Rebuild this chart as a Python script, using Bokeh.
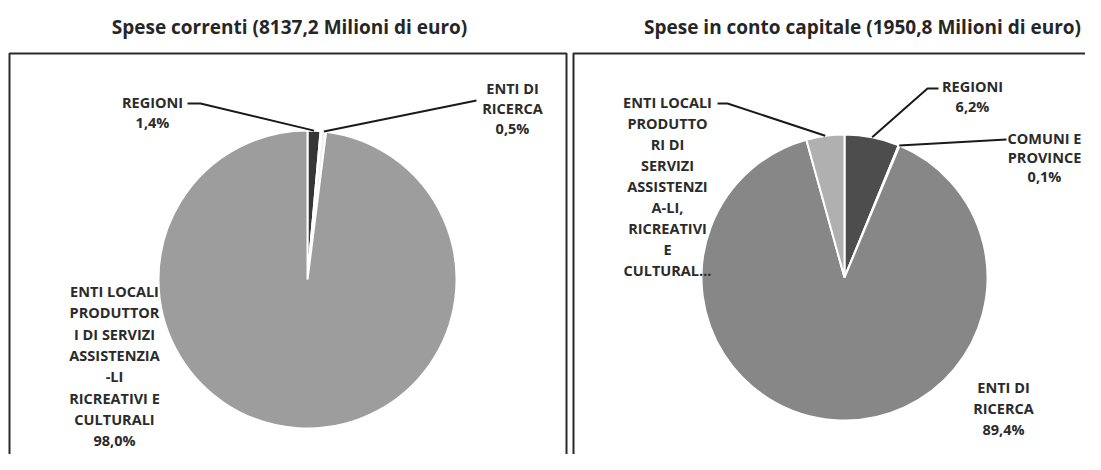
import math
from bokeh.plotting import figure
from bokeh.models import Range1d
from bokeh.core.properties import value
from bokeh.embed import file_html
from bokeh.resources import INLINE

# ---------------- data ----------------
titles = ["Spese correnti (8137,2 Milioni di euro)",
          "Spese in conto capitale (1950,8 Milioni di euro)"]
categories = ["REGIONI", "COMUNI E PROVINCE", "ENTI DI RICERCA",
              "ENTI LOCALI PRODUTTORI DI SERVIZI ASSISTENZIALI, RICREATIVI E CULTURALI"]
left_values = [1.4, 0.1, 0.5, 98.0]
right_values = [6.2, 0.1, 89.4, 4.3]
left_label_names = ["REGIONI", None, "ENTI DI\nRICERCA",
                    "ENTI LOCALI\nPRODUTTOR\nI DI SERVIZI\nASSISTENZIA\n-LI\nRICREATIVI E\nCULTURALI"]
right_label_names = ["REGIONI", "COMUNI E\nPROVINCE", "ENTI DI\nRICERCA",
                     "ENTI LOCALI\nPRODUTTO\nRI DI\nSERVIZI\nASSISTENZI\nA-LI,\nRICREATIVI\nE\nCULTURAL\u2026"]
left_show_pct = [True, False, True, True]
right_show_pct = [True, True, True, False]

# ---------------- layout / style ----------------
W, H = 1085, 454
def Y(sy):  # screen y -> data y
    return H - sy

FONT = value("Open Sans")
TXT = "#2b2b2b"
LABEL_SIZE = "14.5px"

left_colors = ["#363636", "#dcdcdc", "#f2f2f2", "#9d9d9d"]
right_colors = ["#4d4d4d", "#6c6c6c", "#878787", "#b0b0b0"]

panels = [
    dict(values=left_values, names=left_label_names, pct=left_show_pct, colors=left_colors,
         cx=307, cy=279, r=149, title_x=289,
         box=(9, 566),
         labels=[(152, 102, 20, [(200, 103), (187, 103)]),
                 None,
                 (512, 88, 20, [(476, 100)]),
                 (114, 291, 21.3, None)]),
    dict(values=right_values, names=right_label_names, pct=right_show_pct, colors=right_colors,
         cx=844, cy=277, r=143, title_x=862,
         box=(573, 1120),
         labels=[(972, 86, 20, [(927, 88), (938, 88)]),
                 (1044, 138, 19, [(1006, 139)]),
                 (1003, 387, 21, None),
                 (667, 102, 21, [(727, 103), (717, 103)])]),
]

p = figure(width=W, height=H, x_range=Range1d(0, W), y_range=Range1d(0, H),
           output_backend="svg", toolbar_location=None, min_border=0)
p.axis.visible = False
p.grid.visible = False
p.outline_line_color = None
p.background_fill_color = "white"
p.border_fill_color = "white"

for k_pan, pan in enumerate(panels):
    vals = pan["values"]
    tot = sum(vals)
    cx, cy, r = pan["cx"], Y(pan["cy"]), pan["r"]
    cum = 0.0
    starts, ends, mids = [], [], []
    for v in vals:
        a0 = math.pi / 2 - 2 * math.pi * cum / tot
        cum += v
        a1 = math.pi / 2 - 2 * math.pi * cum / tot
        starts.append(a0); ends.append(a1); mids.append((a0 + a1) / 2)
    # panel box
    bx0, bx1 = pan["box"]
    p.line([bx0, bx0, bx1, bx1], [Y(490), Y(53), Y(53), Y(490)], line_color="#2a2a2a", line_width=2)
    # wedges
    p.wedge(x=[cx] * len(vals), y=[cy] * len(vals), radius=r,
            start_angle=starts, end_angle=ends, direction="clock",
            fill_color=pan["colors"], line_color="white", line_width=2)
    # title
    p.text(x=[pan["title_x"]], y=[Y(26)], text=[titles[k_pan]],
           text_font=FONT, text_font_style="bold", text_font_size="19px",
           text_color="#262626", text_align="center", text_baseline="middle")
    # labels + leader lines
    for i, lab in enumerate(pan["labels"]):
        if lab is None or pan["names"][i] is None:
            continue
        lx, ly, sp, leader = lab
        lines = pan["names"][i].split("\n")
        if pan["pct"][i]:
            lines.append(f"{vals[i]:.1f}%".replace(".", ","))
        p.text(x=[lx] * len(lines), y=[Y(ly + k * sp) for k in range(len(lines))], text=lines,
               text_font=FONT, text_font_style="bold", text_font_size=LABEL_SIZE,
               text_color=TXT, text_align="center", text_baseline="middle")
        if leader:
            m = mids[i]
            sx = cx + r * math.cos(m)
            sy = cy + r * math.sin(m)
            xs = [sx] + [q[0] for q in leader]
            ys = [sy] + [Y(q[1]) for q in leader]
            p.line(xs, ys, line_color="#1a1a1a", line_width=2)

open("out.html", "w").write(file_html(p, INLINE))
